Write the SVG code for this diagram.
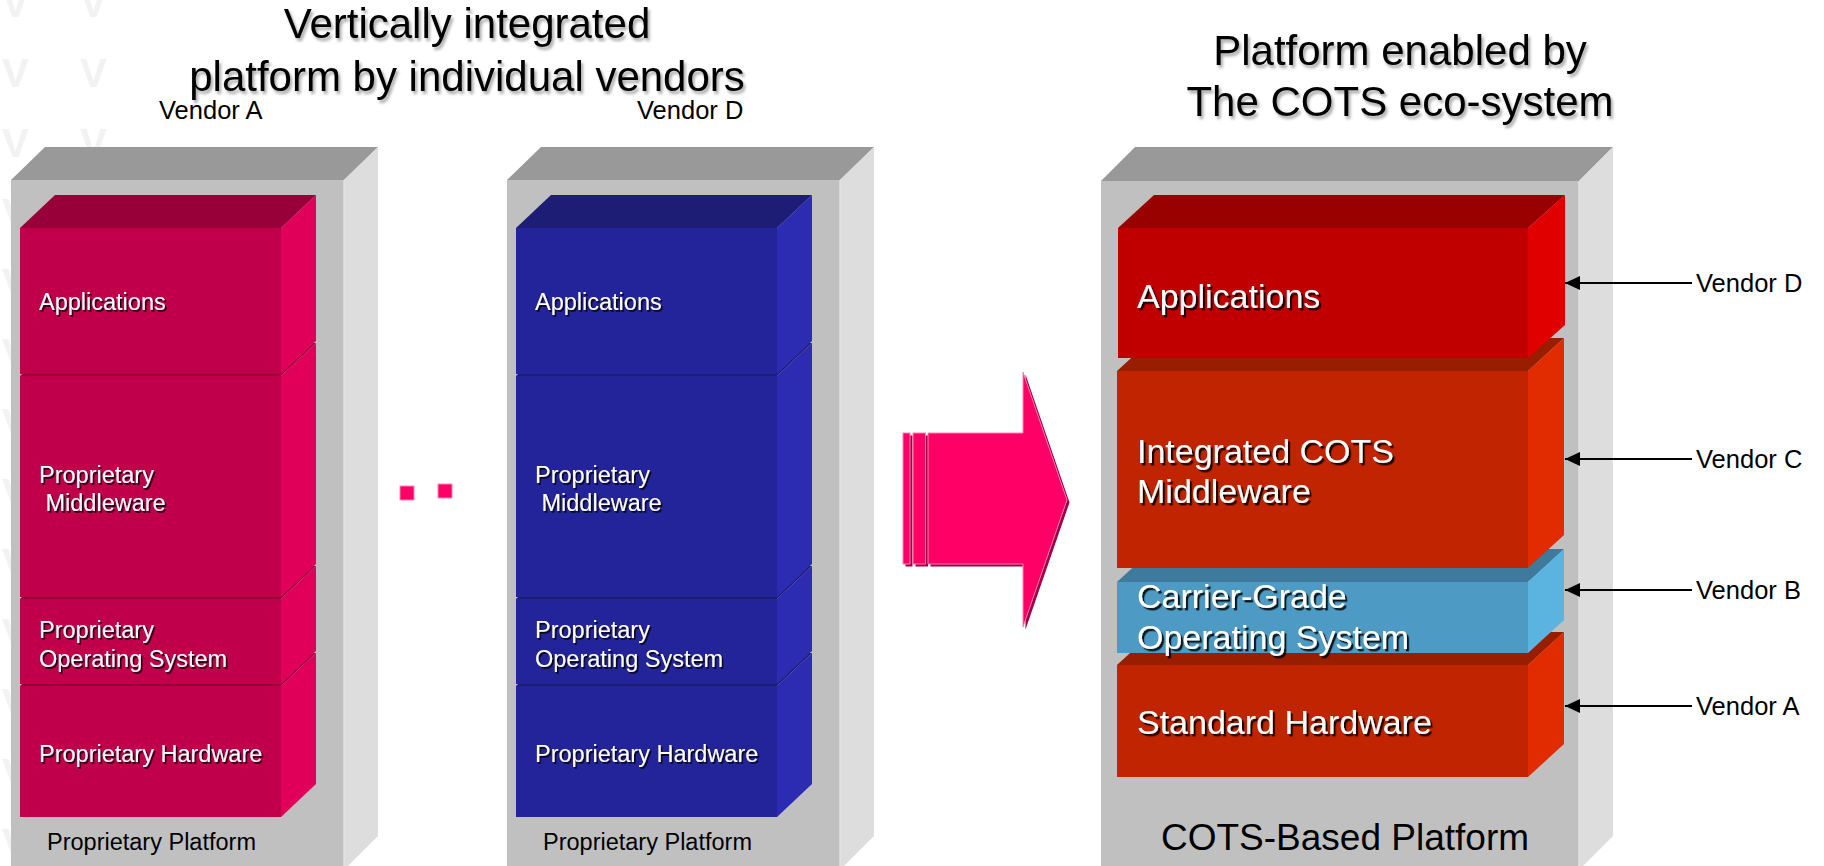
<svg xmlns="http://www.w3.org/2000/svg" width="1824" height="866" viewBox="0 0 1824 866">
  <defs>
    <style>
      text { font-family: "Liberation Sans", Arial, sans-serif; }
      .title { font-size: 42px; fill: #000; filter: url(#softShadow); }
      .vendor { font-size: 25.5px; fill: #000; }
      .lbl { font-size: 23.5px; fill: #fff; filter: url(#hardShadow); }
      .lblBig { font-size: 34px; fill: #fff; filter: url(#hardShadowBig); }
      .base { font-size: 23.5px; fill: #000; }
      .baseBig { font-size: 37px; fill: #000; }
      .wm { font-size: 40px; font-weight: bold; fill: #f2f2f2; }
      .pfTop { fill: #999999; }
      .pfFront { fill: #c0c0c0; }
      .pfSide { fill: #dddddd; }
      .pkTop { fill: #98003a; }
      .pkFront { fill: #c1004b; }
      .pkSide { fill: #e0005a; }
      .blTop { fill: #1d1d75; }
      .blFront { fill: #24249a; }
      .blSide { fill: #2c2cb3; }
      .rdTop { fill: #990000; }
      .rdFront { fill: #c00000; }
      .rdSide { fill: #e00000; }
      .orTop { fill: #991e00; }
      .orFront { fill: #c02400; }
      .orSide { fill: #e02c00; }
      .cyTop { fill: #3e7a9c; }
      .cyFront { fill: #4d9bc4; }
      .cySide { fill: #5bb3e0; }
      .edge { stroke: #e6e6e6; stroke-width: 1.2; fill: none; }
      .conn { stroke: #000; stroke-width: 2.2; fill: none; marker-end: url(#head); }
    </style>
    <filter id="softShadow" x="-5%" y="-30%" width="110%" height="160%">
      <feDropShadow dx="2" dy="3" stdDeviation="1.6" flood-color="#000" flood-opacity="0.35"/>
    </filter>
    <filter id="hardShadow" x="-5%" y="-30%" width="110%" height="160%">
      <feDropShadow dx="1.6" dy="1.8" stdDeviation="0.5" flood-color="#000" flood-opacity="0.85"/>
    </filter>
    <filter id="hardShadowBig" x="-5%" y="-30%" width="110%" height="160%">
      <feDropShadow dx="2.2" dy="2.4" stdDeviation="0.6" flood-color="#000" flood-opacity="0.85"/>
    </filter>
    <marker id="head" viewBox="0 0 15 14" refX="15" refY="7" markerWidth="15" markerHeight="14" markerUnits="userSpaceOnUse" orient="auto">
      <path d="M0,0 L15,7 L0,14 Z" fill="#000"/>
    </marker>
  </defs>

  <rect width="1824" height="866" fill="#ffffff"/>

  <!-- faint background watermark -->
  <g id="watermark">
    <text class="wm" x="2" y="17">V</text>
    <text class="wm" x="80" y="17">V</text>
    <text class="wm" x="2" y="87">V</text>
    <text class="wm" x="80" y="87">V</text>
    <text class="wm" x="2" y="157">V</text>
    <text class="wm" x="80" y="157">V</text>
    <text class="wm" x="2" y="227">V</text>
    <text class="wm" x="2" y="297">V</text>
    <text class="wm" x="2" y="367">V</text>
    <text class="wm" x="2" y="437">V</text>
    <text class="wm" x="2" y="507">V</text>
    <text class="wm" x="2" y="577">V</text>
    <text class="wm" x="2" y="647">V</text>
    <text class="wm" x="2" y="717">V</text>
    <text class="wm" x="2" y="787">V</text>
    <text class="wm" x="2" y="857">V</text>
  </g>

  <!-- headings -->
  <g id="heading-left">
    <text class="title" x="467" y="38" text-anchor="middle">Vertically integrated</text>
    <text class="title" x="467" y="91" text-anchor="middle">platform by individual vendors</text>
  </g>
  <g id="heading-right">
    <text class="title" x="1400" y="65" text-anchor="middle">Platform enabled by</text>
    <text class="title" x="1400" y="116" text-anchor="middle">The COTS eco-system</text>
  </g>

  <!-- Vendor A: proprietary stack -->
  <g id="platform-a">
    <text class="vendor" x="159" y="119">Vendor A</text>
    <polygon class="pfTop" points="11,180 45,147 378,147 344,180"/>
    <rect class="pfFront" x="11" y="180" width="333" height="690"/>
    <polygon class="pfSide" points="344,180 378,147 378,836 344,870"/>
    <line class="edge" x1="344" y1="180" x2="344" y2="866"/>
    <g id="a-hardware">
      <polygon class="pkTop" points="20,686 55,653 316,653 281,686"/>
      <rect class="pkFront" x="20" y="686" width="261" height="131"/>
      <polygon class="pkSide" points="281,686 316,653 316,784 281,817"/>
      <text class="lbl" x="39" y="762">Proprietary Hardware</text>
    </g>
    <g id="a-os">
      <polygon class="pkTop" points="20,599 55,566 316,566 281,599"/>
      <rect class="pkFront" x="20" y="599" width="261" height="85"/>
      <polygon class="pkSide" points="281,599 316,566 316,651 281,684"/>
      <text class="lbl" x="39" y="638">Proprietary</text>
      <text class="lbl" x="39" y="667">Operating System</text>
    </g>
    <g id="a-middleware">
      <polygon class="pkTop" points="20,376 55,343 316,343 281,376"/>
      <rect class="pkFront" x="20" y="376" width="261" height="221"/>
      <polygon class="pkSide" points="281,376 316,343 316,564 281,597"/>
      <text class="lbl" x="39" y="483">Proprietary</text>
      <text class="lbl" x="45.5" y="511">Middleware</text>
    </g>
    <g id="a-applications">
      <polygon class="pkTop" points="20,228 55,195 316,195 281,228"/>
      <rect class="pkFront" x="20" y="228" width="261" height="146"/>
      <polygon class="pkSide" points="281,228 316,195 316,341 281,374"/>
      <text class="lbl" x="39" y="310">Applications</text>
    </g>
    <text class="base" x="47" y="850">Proprietary Platform</text>
  </g>

  <!-- ellipsis between the vendor stacks -->
  <g id="ellipsis">
    <rect x="400" y="486" width="14" height="14" fill="#ff0066" stroke="#ff88b4" stroke-width="1"/>
    <rect x="438" y="484" width="14" height="14" fill="#ff0066" stroke="#ff88b4" stroke-width="1"/>
  </g>

  <!-- Vendor D: proprietary stack -->
  <g id="platform-d">
    <text class="vendor" x="637" y="119">Vendor D</text>
    <polygon class="pfTop" points="507,180 541,147 874,147 840,180"/>
    <rect class="pfFront" x="507" y="180" width="333" height="690"/>
    <polygon class="pfSide" points="840,180 874,147 874,836 840,870"/>
    <line class="edge" x1="840" y1="180" x2="840" y2="866"/>
    <g id="d-hardware">
      <polygon class="blTop" points="516,686 551,653 812,653 777,686"/>
      <rect class="blFront" x="516" y="686" width="261" height="131"/>
      <polygon class="blSide" points="777,686 812,653 812,784 777,817"/>
      <text class="lbl" x="535" y="762">Proprietary Hardware</text>
    </g>
    <g id="d-os">
      <polygon class="blTop" points="516,599 551,566 812,566 777,599"/>
      <rect class="blFront" x="516" y="599" width="261" height="85"/>
      <polygon class="blSide" points="777,599 812,566 812,651 777,684"/>
      <text class="lbl" x="535" y="638">Proprietary</text>
      <text class="lbl" x="535" y="667">Operating System</text>
    </g>
    <g id="d-middleware">
      <polygon class="blTop" points="516,376 551,343 812,343 777,376"/>
      <rect class="blFront" x="516" y="376" width="261" height="221"/>
      <polygon class="blSide" points="777,376 812,343 812,564 777,597"/>
      <text class="lbl" x="535" y="483">Proprietary</text>
      <text class="lbl" x="541.5" y="511">Middleware</text>
    </g>
    <g id="d-applications">
      <polygon class="blTop" points="516,228 551,195 812,195 777,228"/>
      <rect class="blFront" x="516" y="228" width="261" height="146"/>
      <polygon class="blSide" points="777,228 812,195 812,341 777,374"/>
      <text class="lbl" x="535" y="310">Applications</text>
    </g>
    <text class="base" x="543" y="850">Proprietary Platform</text>
  </g>

  <!-- transition arrow -->
  <g id="transition-arrow">
    <g fill="#a00045" transform="translate(2.5,2.5)">
      <rect x="903" y="433" width="7" height="131"/>
      <rect x="913" y="433" width="12.5" height="131"/>
      <polygon points="928,433 1023,433 1023,372 1067,500 1023,627 1023,564 928,564"/>
    </g>
    <g fill="#ff0066" stroke="#ff80b0" stroke-width="1">
      <rect x="903" y="433" width="7" height="131"/>
      <rect x="913" y="433" width="12.5" height="131"/>
      <polygon points="928,433 1023,433 1023,372 1067,500 1023,627 1023,564 928,564"/>
    </g>
  </g>

  <!-- COTS-based platform -->
  <g id="platform-cots">
    <polygon class="pfTop" points="1101,181 1135,147 1613,147 1579,181"/>
    <rect class="pfFront" x="1101" y="181" width="478" height="690"/>
    <polygon class="pfSide" points="1579,181 1613,147 1613,836 1579,870"/>
    <line class="edge" x1="1579" y1="181" x2="1579" y2="866"/>
    <g id="cots-hardware">
      <polygon class="orTop" points="1117,665 1153,632 1564,632 1528,665"/>
      <rect class="orFront" x="1117" y="665" width="411" height="112"/>
      <polygon class="orSide" points="1528,665 1564,632 1564,744 1528,777"/>
      <text class="lblBig" x="1137" y="734">Standard Hardware</text>
    </g>
    <g id="cots-os">
      <polygon class="cyTop" points="1117,582 1153,549 1564,549 1528,582"/>
      <rect class="cyFront" x="1117" y="582" width="411" height="71"/>
      <polygon class="cySide" points="1528,582 1564,549 1564,620 1528,653"/>
      <text class="lblBig" x="1137" y="608">Carrier-Grade</text>
      <text class="lblBig" x="1137" y="649">Operating System</text>
    </g>
    <g id="cots-middleware">
      <polygon class="orTop" points="1117,371 1153,338 1564,338 1528,371"/>
      <rect class="orFront" x="1117" y="371" width="411" height="197"/>
      <polygon class="orSide" points="1528,371 1564,338 1564,535 1528,568"/>
      <text class="lblBig" x="1137" y="463">Integrated COTS</text>
      <text class="lblBig" x="1137" y="503">Middleware</text>
    </g>
    <g id="cots-applications">
      <polygon class="rdTop" points="1118,228 1154,195 1565,195 1528,228"/>
      <rect class="rdFront" x="1118" y="228" width="410" height="130"/>
      <polygon class="rdSide" points="1528,228 1565,195 1565,325 1528,358"/>
      <text class="lblBig" x="1137" y="308">Applications</text>
    </g>
    <text class="baseBig" x="1161" y="850">COTS-Based Platform</text>
  </g>

  <!-- vendor attribution connectors -->
  <g id="connectors">
    <line class="conn" x1="1692" y1="283" x2="1565" y2="283"/>
    <line class="conn" x1="1692" y1="459" x2="1565" y2="459"/>
    <line class="conn" x1="1692" y1="590" x2="1565" y2="590"/>
    <line class="conn" x1="1692" y1="706" x2="1565" y2="706"/>
  </g>
  <g id="vendor-labels">
    <text class="vendor" x="1696" y="292">Vendor D</text>
    <text class="vendor" x="1696" y="468">Vendor C</text>
    <text class="vendor" x="1696" y="599">Vendor B</text>
    <text class="vendor" x="1696" y="715">Vendor A</text>
  </g>
</svg>
